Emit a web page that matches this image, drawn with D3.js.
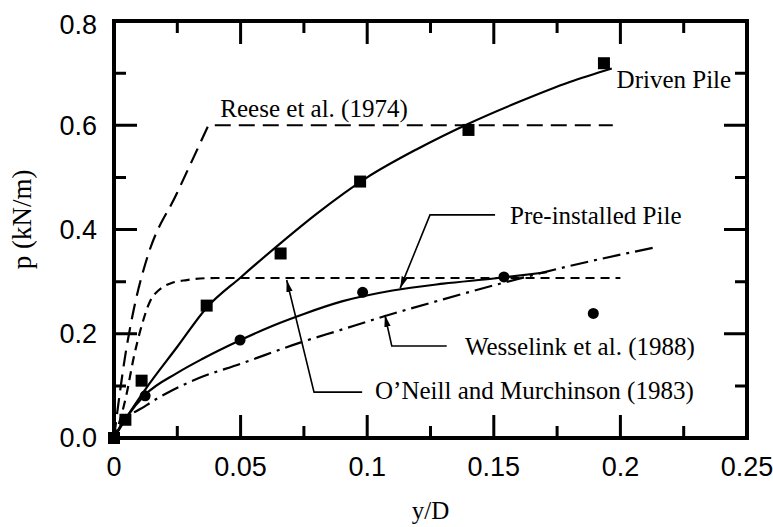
<!DOCTYPE html>
<html>
<head>
<meta charset="utf-8">
<script src="https://cdn.jsdelivr.net/npm/d3@7"></script>
<style>
	body { margin: 0; background: #fff; }
</style>
</head>
<body>
<div id="chart"></div>
<script>
// measured points (y/D, p)
const drivenX = [0, 0.0045, 0.0109, 0.0366, 0.0658, 0.0972, 0.140, 0.1935];
const drivenY = [0, 0.035, 0.110, 0.254, 0.354, 0.492, 0.591, 0.719];
const preX = [0.0123, 0.0498, 0.0982, 0.154, 0.1893];
const preY = [0.081, 0.188, 0.2795, 0.309, 0.239];

// fitted / published curves
const drivenFitX = [0, 0.005, 0.0122, 0.025, 0.0366, 0.05, 0.0656, 0.08, 0.1, 0.12, 0.14, 0.16, 0.18, 0.1966];
const drivenFitY = [0, 0.04, 0.092, 0.175, 0.250, 0.308, 0.373, 0.43, 0.50, 0.555, 0.603, 0.645, 0.683, 0.709];
const preFitX = [0, 0.005, 0.0123, 0.025, 0.035, 0.05, 0.0625, 0.075, 0.09, 0.11, 0.13, 0.15, 0.171];
const preFitY = [0, 0.04, 0.083, 0.125, 0.152, 0.188, 0.215, 0.238, 0.262, 0.283, 0.296, 0.306, 0.318];
const reeseX = [0, 0.0024, 0.0045, 0.0065, 0.0083, 0.0105, 0.0135, 0.0248, 0.0373];
const reeseY = [0, 0.09, 0.16, 0.215, 0.258, 0.302, 0.352, 0.469, 0.6];
const reeseFlatX = [0.0373, 0.197];
const reeseFlatY = [0.6, 0.6];
const oneillX = [0, 0.003, 0.005, 0.0076, 0.0109, 0.0142, 0.018, 0.0225, 0.0287, 0.04, 0.2];
const oneillY = [0, 0.045, 0.085, 0.15, 0.215, 0.262, 0.285, 0.297, 0.303, 0.307, 0.307];
const wessX = [0, 0.0024, 0.0129, 0.0208, 0.0333, 0.0498, 0.0735, 0.0893, 0.1064, 0.13, 0.1524, 0.18, 0.213];
const wessY = [0, 0.022, 0.063, 0.086, 0.1145, 0.142, 0.183, 0.207, 0.233, 0.266, 0.296, 0.33, 0.365];

const xMajor = [0, 0.05, 0.1, 0.15, 0.2, 0.25];
const xMinor = [0.025, 0.075, 0.125, 0.175, 0.225];
const yMajor = [0, 0.2, 0.4, 0.6, 0.8];
const yMinor = [0.1, 0.3, 0.5, 0.7];

const width = 773;
const height = 527;
const m = {left: 114, right: 26, top: 21, bottom: 89};

const x = d3.scaleLinear().domain([0, 0.25]).range([m.left, width - m.right]);
const y = d3.scaleLinear().domain([0, 0.8]).range([height - m.bottom, m.top]);

const svg = d3.select('#chart')
	.append('svg')
	.attr('width', width)
	.attr('height', height)
	.attr('viewBox', `0 0 ${width} ${height}`);

svg.append('defs').append('marker')
	.attr('id', 'arrow')
	.attr('viewBox', '0 0 12 8')
	.attr('refX', 12).attr('refY', 4)
	.attr('markerWidth', 12).attr('markerHeight', 8)
	.attr('markerUnits', 'userSpaceOnUse')
	.attr('orient', 'auto')
	.append('path')
	.attr('d', 'M0,0.8L12,4L0,7.2Z')
	.attr('fill', '#000');

const yBot = y(0), yTop = y(0.8), xLeft = x(0), xRight = x(0.25);
const major = 23, minor = 12;
const sans = '"Liberation Sans", Arial, sans-serif';
const serif = '"Liberation Serif", "Times New Roman", serif';

svg.append('rect')
	.attr('x', xLeft).attr('y', yTop)
	.attr('width', xRight - xLeft).attr('height', yBot - yTop)
	.attr('fill', 'none').attr('stroke', '#000').attr('stroke-width', 4);

// inward ticks on all four sides, one path
const xt = xMajor.map(v => [v, major]).concat(xMinor.map(v => [v, minor]));
const yt = yMajor.map(v => [v, major]).concat(yMinor.map(v => [v, minor]));
const tickPath = d3.path();
xt.forEach(([v, len]) => {
	tickPath.moveTo(x(v), yBot); tickPath.lineTo(x(v), yBot - len);
	tickPath.moveTo(x(v), yTop); tickPath.lineTo(x(v), yTop + len);
});
yt.forEach(([v, len]) => {
	tickPath.moveTo(xLeft, y(v)); tickPath.lineTo(xLeft + len, y(v));
	tickPath.moveTo(xRight, y(v)); tickPath.lineTo(xRight - len, y(v));
});
svg.append('path')
	.attr('d', tickPath.toString())
	.style('fill', 'none')
	.style('stroke', '#000')
	.style('stroke-width', '3px');

// tick labels
svg.append('g').selectAll('text')
	.data(xMajor)
	.join('text')
	.attr('x', d => x(d)).attr('y', yBot + 19)
	.attr('dy', '0.71em')
	.attr('text-anchor', 'middle')
	.attr('font-family', sans).attr('font-size', 27)
	.text(d3.format('~g'));
svg.append('g').selectAll('text')
	.data(yMajor)
	.join('text')
	.attr('x', xLeft - 17).attr('y', d => y(d) + (d === 0.8 ? 4 : 0))
	.attr('dy', '0.35em')
	.attr('text-anchor', 'end')
	.attr('font-family', sans).attr('font-size', 27)
	.text(d3.format('.1f'));

// axis titles
svg.append('text')
	.attr('x', (xLeft + xRight) / 2).attr('y', 519)
	.attr('text-anchor', 'middle')
	.attr('font-family', serif).attr('font-size', 25)
	.text('y/D');
svg.append('text')
	.attr('transform', `translate(31,${(yTop + yBot) / 2 - 10}) rotate(-90)`)
	.attr('text-anchor', 'middle')
	.attr('font-family', serif).attr('font-size', 27)
	.text('p (kN/m)');

// curves
const zip = (xs, ys) => xs.map((v, i) => [v, ys[i]]);
const smooth = d3.line().x(d => x(d[0])).y(d => y(d[1])).curve(d3.curveMonotoneX);
const straight = d3.line().x(d => x(d[0])).y(d => y(d[1]));

const curves = [
	{d: smooth(zip(reeseX, reeseY)) + straight(zip(reeseFlatX, reeseFlatY)).replace('M', 'L'), dash: '16,8'},
	{d: smooth(zip(oneillX, oneillY)), dash: '9,6'},
	{d: smooth(zip(wessX, wessY)), dash: '18,6,3,6'},
	{d: smooth(zip(preFitX, preFitY)), dash: null},
	{d: smooth(zip(drivenFitX, drivenFitY)), dash: null}
];
svg.append('g').selectAll('path')
	.data(curves)
	.join('path')
	.attr('d', d => d.d)
	.attr('fill', 'none')
	.attr('stroke', '#000')
	.attr('stroke-width', 2.2)
	.attr('stroke-dasharray', d => d.dash);

// measured points
svg.append('g').selectAll('rect')
	.data(zip(drivenX, drivenY))
	.join('rect')
	.attr('x', d => x(d[0]) - 6).attr('y', d => y(d[1]) - 6)
	.attr('width', 12).attr('height', 12)
	.attr('fill', '#000');
svg.append('g').selectAll('circle')
	.data(zip(preX, preY))
	.join('circle')
	.attr('cx', d => x(d[0])).attr('cy', d => y(d[1]))
	.attr('r', 5.5)
	.attr('fill', '#000');

// labels and leader lines (data coords)
const notes = [
	{text: 'Reese et al. (1974)', at: [0.042, 0.615], leader: null},
	{text: 'Driven Pile', at: [0.1985, 0.671], leader: null},
	{text: 'Pre-installed Pile', at: [0.1564, 0.4106], leader: [[0.1505, 0.428], [0.1248, 0.428], [0.113, 0.287]]},
	{text: 'Wesselink et al. (1988)', at: [0.1386, 0.159], leader: [[0.1314, 0.1765], [0.1097, 0.1765], [0.107, 0.236]]},
	{text: 'O\u2019Neill and Murchinson (1983)', at: [0.1031, 0.0748], leader: [[0.098, 0.088], [0.079, 0.088], [0.0682, 0.303]]}
];
svg.append('g').selectAll('text')
	.data(notes)
	.join('text')
	.attr('x', d => x(d.at[0])).attr('y', d => y(d.at[1]))
	.attr('font-family', serif).attr('font-size', 25)
	.text(d => d.text);
svg.append('g').selectAll('path')
	.data(notes.filter(d => d.leader))
	.join('path')
	.attr('d', d => straight(d.leader))
	.attr('fill', 'none')
	.attr('stroke', '#000')
	.attr('stroke-width', 1.6)
	.attr('marker-end', 'url(#arrow)');
</script>
</body>
</html>
